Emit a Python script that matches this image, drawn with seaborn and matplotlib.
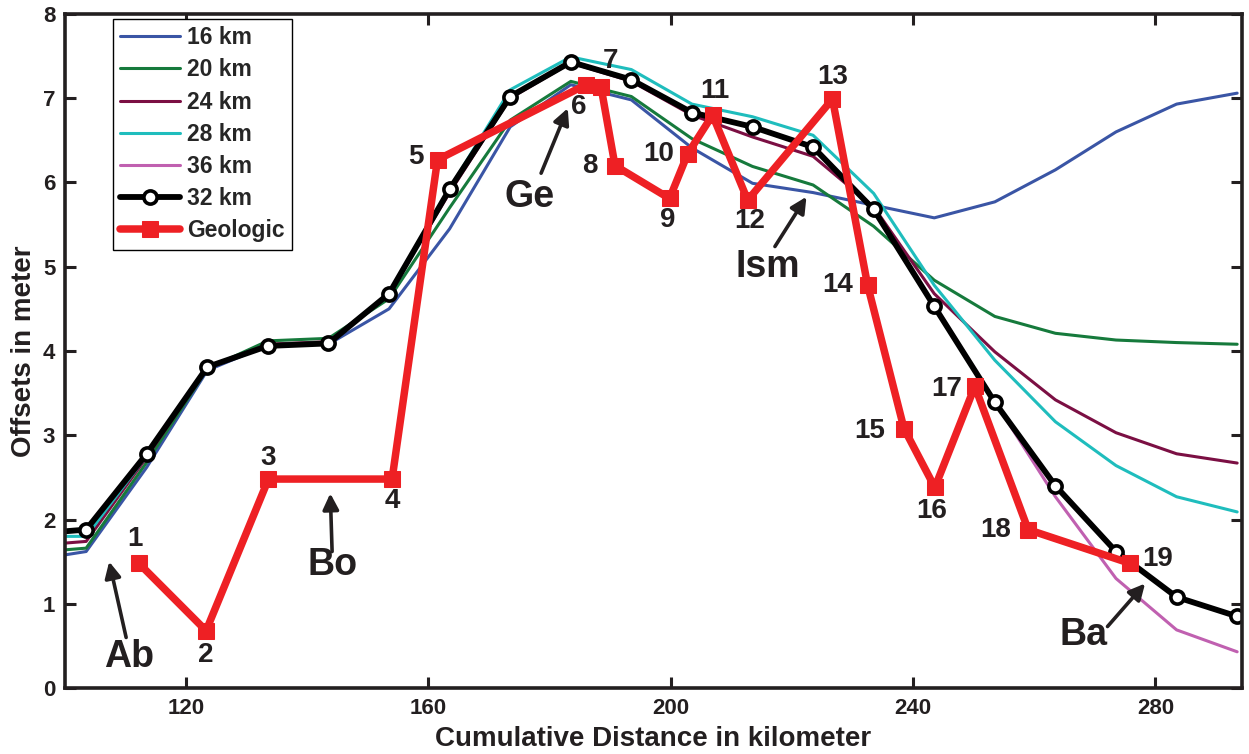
import matplotlib
matplotlib.use("Agg")
import matplotlib.pyplot as plt
import seaborn as sns

# model curves, sampled every ~10 km
dist_km = [100, 103.5, 113.5, 123.5, 133.5, 143.5, 153.5, 163.5, 173.5, 183.5, 193.5,
           203.5, 213.5, 223.5, 233.5, 243.5, 253.5, 263.5, 273.5, 283.5, 293.5]
off_16 = [1.58, 1.62, 2.62, 3.77, 4.07, 4.08, 4.50, 5.45, 6.66, 7.16, 6.98,
          6.41, 5.99, 5.88, 5.73, 5.58, 5.77, 6.15, 6.60, 6.93, 7.06]
off_20 = [1.64, 1.66, 2.68, 3.79, 4.12, 4.15, 4.62, 5.70, 6.74, 7.20, 7.02,
          6.52, 6.19, 5.97, 5.48, 4.84, 4.41, 4.21, 4.13, 4.10, 4.08]
off_24 = [1.72, 1.74, 2.74, 3.80, 4.08, 4.11, 4.68, 5.88, 7.00, 7.42, 7.20,
          6.80, 6.54, 6.31, 5.71, 4.68, 3.99, 3.42, 3.03, 2.78, 2.67]
off_28 = [1.80, 1.80, 2.76, 3.81, 4.07, 4.10, 4.69, 5.93, 7.10, 7.49, 7.34,
          6.93, 6.78, 6.56, 5.87, 4.78, 3.89, 3.16, 2.64, 2.27, 2.09]
off_36 = [1.86, 1.86, 2.78, 3.81, 4.06, 4.09, 4.68, 5.92, 7.02, 7.43, 7.22,
          6.83, 6.66, 6.42, 5.68, 4.55, 3.40, 2.27, 1.30, 0.69, 0.43]
off_32 = [1.86, 1.88, 2.78, 3.81, 4.06, 4.09, 4.68, 5.92, 7.02, 7.43, 7.22,
          6.83, 6.66, 6.42, 5.68, 4.53, 3.39, 2.40, 1.62, 1.08, 0.85]

# geologic offsets, sites 1..19
geo_km = [112.2, 123.3, 133.6, 154.0, 161.5, 186.0, 188.5, 190.8, 199.8, 202.8,
          206.9, 212.7, 226.7, 232.5, 238.5, 243.6, 250.2, 259.0, 275.8]
geo_off = [1.48, 0.68, 2.48, 2.48, 6.27, 7.16, 7.13, 6.20, 5.81, 6.34,
           6.80, 5.79, 6.99, 4.78, 3.08, 2.38, 3.58, 1.88, 1.48]
geo_labels = [str(i) for i in range(1, 20)]

# label offsets in pixels (dx, dy) from each geologic site
lab_off = [(-4, 24), (0, -24), (0, 21), (0, -22), (-22, 3), (-7, -22), (9, 26),
           (-25, 0), (-2, -22), (-29, 0), (2, 24), (2, -21), (0, 22), (-30, 0),
           (-34, -2), (-3, -24), (-28, -3), (-32, 0), (28, 4)]

# named segments: (text, arrow tail, arrow head, text position)
segments = [
    ("Ab", (110.1, 0.60), (107.3, 1.50), (110.6, 0.37)),
    ("Bo", (144.1, 1.62), (143.8, 2.31), (144.1, 1.46)),
    ("Ge", (178.6, 6.11), (183.0, 6.88), (176.7, 5.83)),
    ("Ism", (217.2, 5.24), (222.4, 5.83), (216.0, 5.00)),
    ("Ba", (272.1, 0.73), (278.3, 1.24), (268.2, 0.63)),
]

sns.set_style("ticks")
plt.rcParams['font.family'] = ['Liberation Sans', 'DejaVu Sans']
plt.rcParams['font.weight'] = 'bold'
plt.rcParams['axes.labelweight'] = 'bold'

ink = "#231f20"
fig = plt.figure(figsize=(12.49, 7.54), dpi=100)
ax = fig.add_axes([0.052, 0.0875, 0.9424, 0.894])

lw = 2.2
sns.lineplot(x=dist_km, y=off_16, color="#3a55a5", lw=lw, label="16 km", errorbar=None, ax=ax)
sns.lineplot(x=dist_km, y=off_20, color="#167a3c", lw=lw, label="20 km", errorbar=None, ax=ax)
sns.lineplot(x=dist_km, y=off_24, color="#7b0f43", lw=lw, label="24 km", errorbar=None, ax=ax)
sns.lineplot(x=dist_km, y=off_28, color="#1fbdbd", lw=lw, label="28 km", errorbar=None, ax=ax)
sns.lineplot(x=dist_km, y=off_36, color="#c060b0", lw=lw, label="36 km", errorbar=None, ax=ax)
sns.lineplot(x=dist_km, y=off_32, color="black", lw=4.2, label="32 km", errorbar=None, ax=ax,
             marker="o", markersize=9.5, markerfacecolor="white", markeredgecolor="black",
             markeredgewidth=2.6, markevery=list(range(1, len(dist_km))))
sns.lineplot(x=geo_km, y=geo_off, color="#ee2024", lw=5.4, label="Geologic", errorbar=None, ax=ax,
             marker="s", markersize=12, markerfacecolor="#ee2024", markeredgecolor="#ee2024")

for lab, x, y, (dx, dy) in zip(geo_labels, geo_km, geo_off, lab_off):
    ax.annotate(lab, (x, y), xytext=(dx, dy), textcoords="offset pixels",
                ha="center", va="center", fontsize=20, fontweight="bold", color=ink)

for txt, tail, head, pos in segments:
    ax.annotate("", xy=head, xytext=tail,
                arrowprops=dict(arrowstyle="-|>", color=ink, lw=2.6,
                                mutation_scale=24, shrinkA=0, shrinkB=0))
    ax.text(pos[0], pos[1], txt, ha="center", va="center", fontsize=27,
            fontweight="bold", color=ink)

ax.set_xlim(100, 294.3)
ax.set_ylim(0, 8)
ax.set_xticks([120, 160, 200, 240, 280])
ax.set_yticks(range(0, 9))
ax.tick_params(direction="in", length=8, width=2.2, labelsize=16, pad=7,
               top=True, right=True, colors=ink)
for s in ax.spines.values():
    s.set_linewidth(2.6)
    s.set_color(ink)

ax.set_xlabel("Cumulative Distance in kilometer", fontsize=20, color=ink)
ax.set_ylabel("Offsets in meter", fontsize=20, color=ink)
ax.xaxis.set_label_coords(0.5, -0.057)
ax.yaxis.set_label_coords(-0.024, 0.5)

leg = ax.legend(loc="upper left", bbox_to_anchor=(0.0408, 0.9926), borderaxespad=0,
                fontsize=16.5, handlelength=2.6, handletextpad=0.3, labelspacing=0.40,
                borderpad=0.32, fancybox=False, framealpha=1, edgecolor="black")
leg.get_frame().set_linewidth(1.0)

fig.savefig("out.png", dpi=100)
